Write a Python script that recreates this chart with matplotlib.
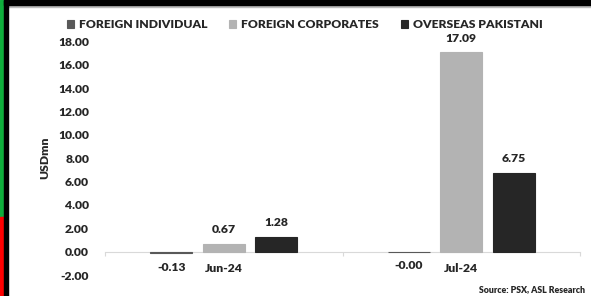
import matplotlib.pyplot as plt
from matplotlib.patches import Rectangle
import numpy as np

plt.rcParams['font.family'] = ['Lato', 'DejaVu Sans']
FW = 'heavy'

# data (USD mn)
categories = ['Jun-24', 'Jul-24']
series_names = ['FOREIGN INDIVIDUAL', 'FOREIGN CORPORATES', 'OVERSEAS PAKISTANI']
foreign_individual = [-0.13, -0.004]
foreign_corporates = [0.67, 17.09]
overseas_pakistani = [1.28, 6.75]
yticks = [-2, 0, 2, 4, 6, 8, 10, 12, 14, 16, 18]

colors = ['#595959', '#b3b3b3', '#262626']
W, H = 591, 296

fig = plt.figure(figsize=(W / 100, H / 100), dpi=100)
ax = fig.add_axes([105 / W, (H - 275) / H, (580 - 105) / W, (275 - 41.5) / H])

x = np.arange(len(categories))
width = 0.177
offsets = [-0.221, 0, 0.221]
all_vals = [foreign_individual, foreign_corporates, overseas_pakistani]

for vals, name, col, off in zip(all_vals, series_names, colors, offsets):
    bars = ax.bar(x + off, vals, width, color=col, edgecolor=col, linewidth=0.8,
                  label=name, zorder=3)
    for b, v in zip(bars, vals):
        dy = 10 if v >= 0 else -10
        ax.annotate(f'{v:.2f}', (b.get_x() + b.get_width() / 2, v), xytext=(0, dy),
                    textcoords='offset points', ha='center', va='center',
                    fontsize=8.7, fontweight=FW, color='#262626')

# category labels just under the zero line
for xi, cat in zip(x, categories):
    ax.annotate(cat, (xi, 0), xytext=(0, -12), textcoords='offset points',
                ha='center', va='center', fontsize=8.7, fontweight=FW, color='#262626')

ax.set_xlim(-0.5, 1.5)
ax.set_ylim(-2, 18)
ax.set_yticks(yticks)
ax.set_yticklabels([f'{t:.2f}' for t in yticks], fontsize=8.7, fontweight=FW, color='#262626')
ax.tick_params(axis='y', length=0, pad=11.5)

# category boundaries as ticks
ax.set_xticks([-0.5, 0.5, 1.5])
ax.set_xticklabels([])
ax.tick_params(axis='x', which='major', length=3, color='#d9d9d9', width=0.8)

for s in ['top', 'right', 'left']:
    ax.spines[s].set_visible(False)
ax.spines['bottom'].set_position(('data', 0))
ax.spines['bottom'].set_color('#d9d9d9')
ax.spines['bottom'].set_linewidth(0.8)
ax.spines['bottom'].set_zorder(2)

fig.text(45 / W, 1 - 158 / H, 'USDmn', rotation=90, ha='center', va='center',
         fontsize=8.7, fontweight=FW, color='#262626')

fig.legend(loc='center', bbox_to_anchor=(304.5 / W, 1 - 24.5 / H), ncol=3, frameon=False,
           handlelength=0.6, handleheight=0.6, handletextpad=0.4, columnspacing=1.8,
           prop={'size': 8.7, 'weight': FW}, labelcolor='#262626')

fig.text(585 / W, 1 - 290 / H, 'Source: PSX, ASL Research', ha='right', va='center',
         fontsize=6.3, fontweight=FW, color='#262626')

# frame decorations
fig.patches.append(Rectangle((0, 1 - 217 / H), 4 / W, 217 / H, transform=fig.transFigure,
                             color='#0fae3c', zorder=5))
fig.patches.append(Rectangle((0, 0), 4 / W, 1 - 217 / H + 0.001, transform=fig.transFigure,
                             color='#ff0000', zorder=5))
fig.patches.append(Rectangle((4 / W, 0), 4 / W, 1, transform=fig.transFigure,
                             color='#000000', zorder=5))
fig.patches.append(Rectangle((4 / W, 1 - 5 / H), 1, 5 / H, transform=fig.transFigure,
                             color='#000000', zorder=5))
fig.patches.append(Rectangle((8 / W, 1 - 6.5 / H), 1, 1.5 / H, transform=fig.transFigure,
                             color='#bdbdbd', zorder=4))

fig.savefig('out.png', dpi=100)
